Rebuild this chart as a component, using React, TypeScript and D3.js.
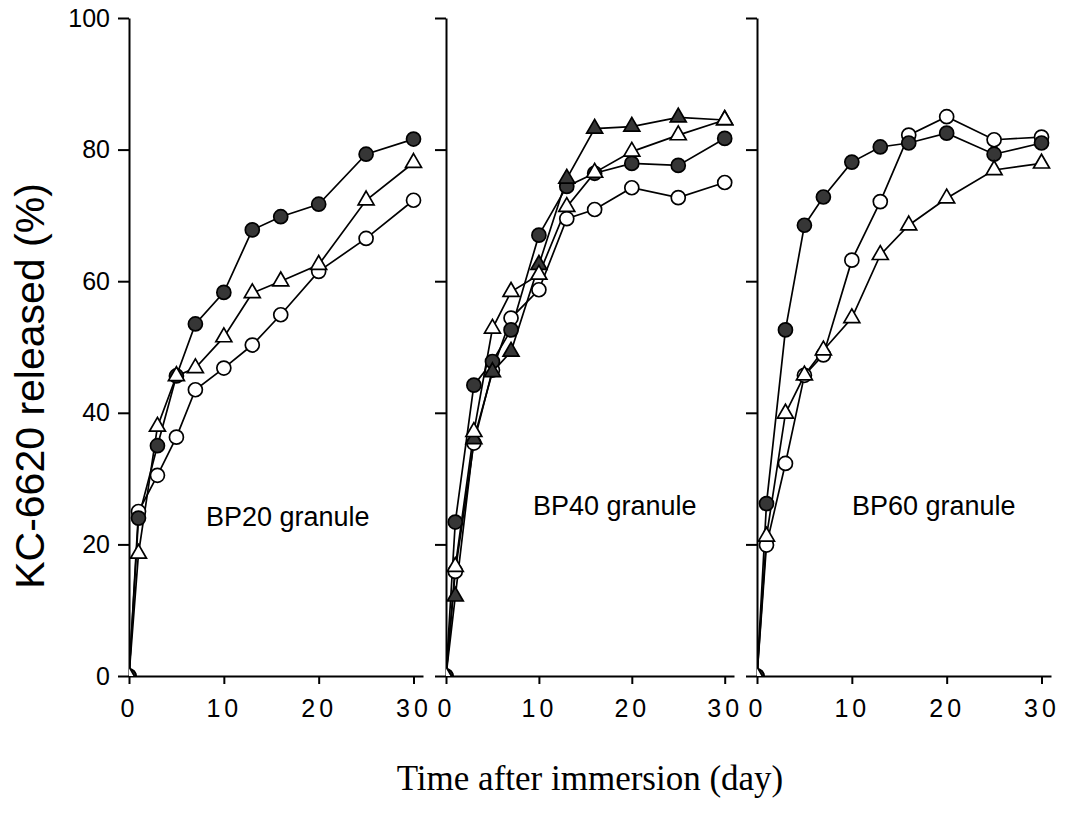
import React, { useEffect, useRef } from "react";
import * as d3 from "d3";

// sampling days (same for every series)
const days = [0, 1, 3, 5, 7, 10, 13, 16, 20, 25, 30];

// BP20 granule
const bp20FilledCircle = [0, 24, 35, 45.6, 53.5, 58.3, 67.8, 69.8, 71.7, 79.3, 81.6];
const bp20OpenTriangle = [0, 18.6, 37.9, 45.6, 46.8, 51.5, 58.2, 60, 62.5, 72.3, 78];
const bp20OpenCircle = [0, 25, 30.5, 36.3, 43.5, 46.8, 50.3, 54.9, 61.5, 66.5, 72.3];

// BP40 granule
const bp40FilledCircle = [0, 23.4, 44.2, 47.8, 52.6, 67, 74.4, 76.4, 77.9, 77.6, 81.7];
const bp40OpenCircle = [0, 15.9, 35.4, 46.5, 54.4, 58.7, 69.5, 70.9, 74.2, 72.7, 75];
const bp40OpenTriangle = [0, 16.6, 37.1, 52.8, 58.4, 61, 71.3, 76.5, 79.7, 82.2, 84.5];
const bp40FilledTriangle = [0, 12.1, 36, 46.2, 49.3, 62.5, 75.6, 83.2, 83.5, 84.9, 84.5];

// BP60 granule
const bp60FilledCircle = [0, 26.2, 52.6, 68.5, 72.8, 78.1, 80.4, 81, 82.5, 79.3, 81];
const bp60OpenCircle = [0, 19.9, 32.3, 45.7, 48.8, 63.2, 72.1, 82.2, 85, 81.5, 81.9];
const bp60OpenTriangle = [0, 21.2, 39.9, 45.7, 49.5, 54.4, 64, 68.5, 72.6, 76.9, 77.9];

const xTicks = [0, 10, 20, 30];
const yTicks = [0, 20, 40, 60, 80, 100];
const panelLabels = ["BP20 granule", "BP40 granule", "BP60 granule"];
const yTitle = "KC-6620 released (%)";
const xTitle = "Time after immersion (day)";

const SANS = "'Liberation Sans', Arial, Helvetica, sans-serif";
const SERIF = "'Liberation Serif', 'Times New Roman', serif";
const DARK = "#363636";

type Series = { values: number[]; shape: "circle" | "triangle"; filled: boolean };

const App = () => {
  const svgRef = useRef<SVGSVGElement>(null);

  const width = 1066;
  const height = 818;

  useEffect(() => {
    const svg = d3.select(svgRef.current);
    svg.selectAll("*").remove();

    const y = d3.scaleLinear().domain([0, 100]).range([676, 18]);

    const panels = [
      {
        left: 129, right: 423, label: panelLabels[0], labelX: 206, labelY: 526,
        series: [
          { values: bp20OpenCircle, shape: "circle", filled: false },
          { values: bp20FilledCircle, shape: "circle", filled: true },
          { values: bp20OpenTriangle, shape: "triangle", filled: false },
        ] as Series[],
      },
      {
        left: 446, right: 734, label: panelLabels[1], labelX: 533, labelY: 515,
        series: [
          { values: bp40OpenCircle, shape: "circle", filled: false },
          { values: bp40FilledCircle, shape: "circle", filled: true },
          { values: bp40FilledTriangle, shape: "triangle", filled: true },
          { values: bp40OpenTriangle, shape: "triangle", filled: false },
        ] as Series[],
      },
      {
        left: 757, right: 1051, label: panelLabels[2], labelX: 852, labelY: 515,
        series: [
          { values: bp60OpenCircle, shape: "circle", filled: false },
          { values: bp60FilledCircle, shape: "circle", filled: true },
          { values: bp60OpenTriangle, shape: "triangle", filled: false },
        ] as Series[],
      },
    ];

    const triangle = d3.symbol().type(d3.symbolTriangle).size(110);

    panels.forEach((p, i) => {
      const x = d3.scaleLinear().domain([0, 31]).range([p.left, p.right]);
      const g = svg.append("g");

      // clip so the markers at the origin only show inside the axes
      const clipId = "clip" + i;
      svg.append("clipPath").attr("id", clipId)
        .append("rect")
        .attr("x", x(0)).attr("y", 0)
        .attr("width", p.right - p.left + 20).attr("height", y(0));

      // y axis
      const yAxis = d3.axisLeft(y).tickValues(yTicks).tickSize(11).tickSizeOuter(0).tickPadding(8);
      if (i > 0) yAxis.tickFormat(() => "");
      const ya = g.append("g").attr("transform", `translate(${x(0)},0)`).call(yAxis);
      ya.select(".domain").attr("stroke", "#000").attr("stroke-width", 2);
      ya.selectAll(".tick line").attr("stroke", "#000").attr("stroke-width", 2);
      ya.selectAll(".tick text")
        .attr("fill", "#000")
        .style("font-family", SANS)
        .style("font-size", "25px");

      // x axis
      const xAxis = d3.axisBottom(x).tickValues(xTicks).tickSize(8).tickSizeOuter(0);
      const xa = g.append("g").attr("transform", `translate(0,${y(0)})`).call(xAxis);
      xa.select(".domain").attr("stroke", "#000").attr("stroke-width", 2);
      xa.selectAll(".tick line").attr("stroke", "#000").attr("stroke-width", 2);
      xa.selectAll(".tick text")
        .attr("fill", "#000")
        .attr("y", 41)
        .attr("dy", 0)
        .style("font-family", SANS)
        .style("font-size", "25px")
        .style("letter-spacing", "4px");

      const plot = g.append("g").attr("clip-path", `url(#${clipId})`);

      const line = d3.line<number>()
        .x((_, j) => x(days[j]))
        .y((d) => y(d));

      // lines first, markers on top
      p.series.forEach((s) => {
        plot.append("path")
          .attr("d", line(s.values))
          .attr("fill", "none")
          .attr("stroke", "#000")
          .attr("stroke-width", 1.7);
      });

      p.series.forEach((s) => {
        const m = plot.append("g");
        if (s.shape === "circle") {
          m.selectAll("circle")
            .data(s.values)
            .enter().append("circle")
            .attr("cx", (_, j) => x(days[j]))
            .attr("cy", (d) => y(d))
            .attr("r", 7)
            .attr("fill", s.filled ? DARK : "#fff")
            .attr("stroke", "#000")
            .attr("stroke-width", 1.7);
        } else {
          m.selectAll("path")
            .data(s.values)
            .enter().append("path")
            .attr("d", triangle as any)
            .attr("transform", (d, j) => `translate(${x(days[j])},${y(d)})`)
            .attr("fill", s.filled ? DARK : "#fff")
            .attr("stroke", "#000")
            .attr("stroke-width", 1.7);
        }
      });

      g.append("text")
        .attr("x", p.labelX)
        .attr("y", p.labelY)
        .style("font-family", SANS)
        .style("font-size", "27px")
        .text(p.label);
    });

    // axis titles
    svg.append("text")
      .attr("transform", "translate(44,386) rotate(-90)")
      .attr("text-anchor", "middle")
      .style("font-family", SANS)
      .style("font-size", "41px")
      .text(yTitle);

    svg.append("text")
      .attr("x", 590)
      .attr("y", 790)
      .attr("text-anchor", "middle")
      .style("font-family", SERIF)
      .style("font-size", "35px")
      .text(xTitle);
  }, []);

  return (
    <div style={{ position: "absolute", left: 0, top: 0, background: "#fff" }}>
      <svg ref={svgRef} width={width} height={height}></svg>
    </div>
  );
};

export default App;
